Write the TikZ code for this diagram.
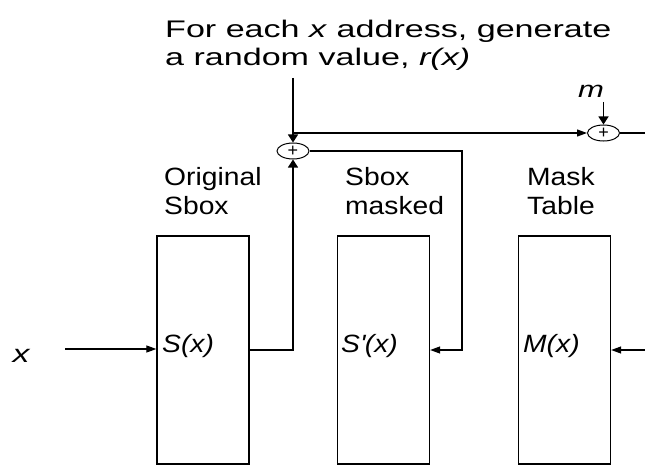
\documentclass[tikz,border=0pt]{standalone}
\usepackage{fontspec}
\setmainfont{Liberation Sans}
\newfontfamily\notefont[FakeStretch=1.42]{Liberation Sans}
\newfontfamily\tagfont[FakeStretch=1.13]{Liberation Sans}
\newfontfamily\varfont[FakeStretch=1.35]{Liberation Sans}
\usetikzlibrary{arrows.meta,shapes.geometric}

\begin{document}
\begin{tikzpicture}[x=1pt,y=-1pt,
  wire/.style={line width=1.2pt},
  flow/.style={wire,-{Triangle[length=10pt,width=7pt]}},
  drop/.style={wire,-{Triangle[length=8pt,width=10pt]}},
  table/.style={draw,line width=1.3pt,rectangle,minimum width=92pt,minimum height=228pt,inner sep=0pt},
  xorop/.style={draw,ellipse,line width=1pt,minimum width=32pt,minimum height=16pt,inner sep=0pt,font=\fontsize{18}{18}\selectfont},
  caption/.style={anchor=north west,inner sep=0pt,align=left,font=\tagfont\fontsize{25}{29}\selectfont},
  entry/.style={anchor=base west,inner sep=0pt,font=\tagfont\itshape\fontsize{25}{29}\selectfont},
  var/.style={inner sep=0pt,font=\varfont\itshape\fontsize{25}{25}\selectfont},
]
\useasboundingbox (0,0) rectangle (645,468);

% the three lookup tables
\node[table] (s1) at (203,350) {};
\node[table] (s2) at (383.5,350) {};
\node[table] (s3) at (564.5,350) {};

\node[entry] (e1) at (162,352) {S(x)};
\node[entry] (e2) at (341,352) {S\textquotesingle(x)};
\node[entry] (e3) at (523,352) {M(x)};

% captions over the tables
\node[caption] (c1) at (164,167) {Original\\Sbox};
\node[caption] (c2) at (345,167) {Sbox\\masked};
\node[caption] (c3) at (527,167) {Mask\\Table};

% note about the random value
\node[anchor=north west,inner sep=0pt,align=left,font=\notefont\fontsize{24}{28}\selectfont] (note) at (165,20)
  {For each \textit{x} address, generate\\a random value, \textit{r(x)}};

% xor gates
\node[xorop] (p1) at (293,151) {+};
\node[xorop] (p2) at (603.5,133) {+};

% inputs and free ends
\node[var] (xl) at (21,356) {x};
\node[var,font=\varfont\itshape\fontsize{23}{23}\selectfont] (ml) at (591,91) {m};
\coordinate (xin) at (65,349);
\coordinate (rtop) at (293,78);
\coordinate (split) at (293,133);
\coordinate (mtop) at (603.5,102);
\coordinate (mout) at (645,133);
\coordinate (turn) at (462,151);
\coordinate (rin) at (645,350);

% connectors
\draw[flow] (xin) -- (xin -| s1.west);
\draw[drop] (rtop) -- (p1.north);
\draw[flow] (split) -- (p2.west);
\draw[wire] (p2.east) -- (mout);
\draw[drop] (mtop) -- (p2.north);
\draw[drop] (s1.east) -| (p1.south);
\draw[flow] (p1.east) -- (turn) |- (s2.east);
\draw[flow] (rin) -- (s3.east);
\end{tikzpicture}
\end{document}
